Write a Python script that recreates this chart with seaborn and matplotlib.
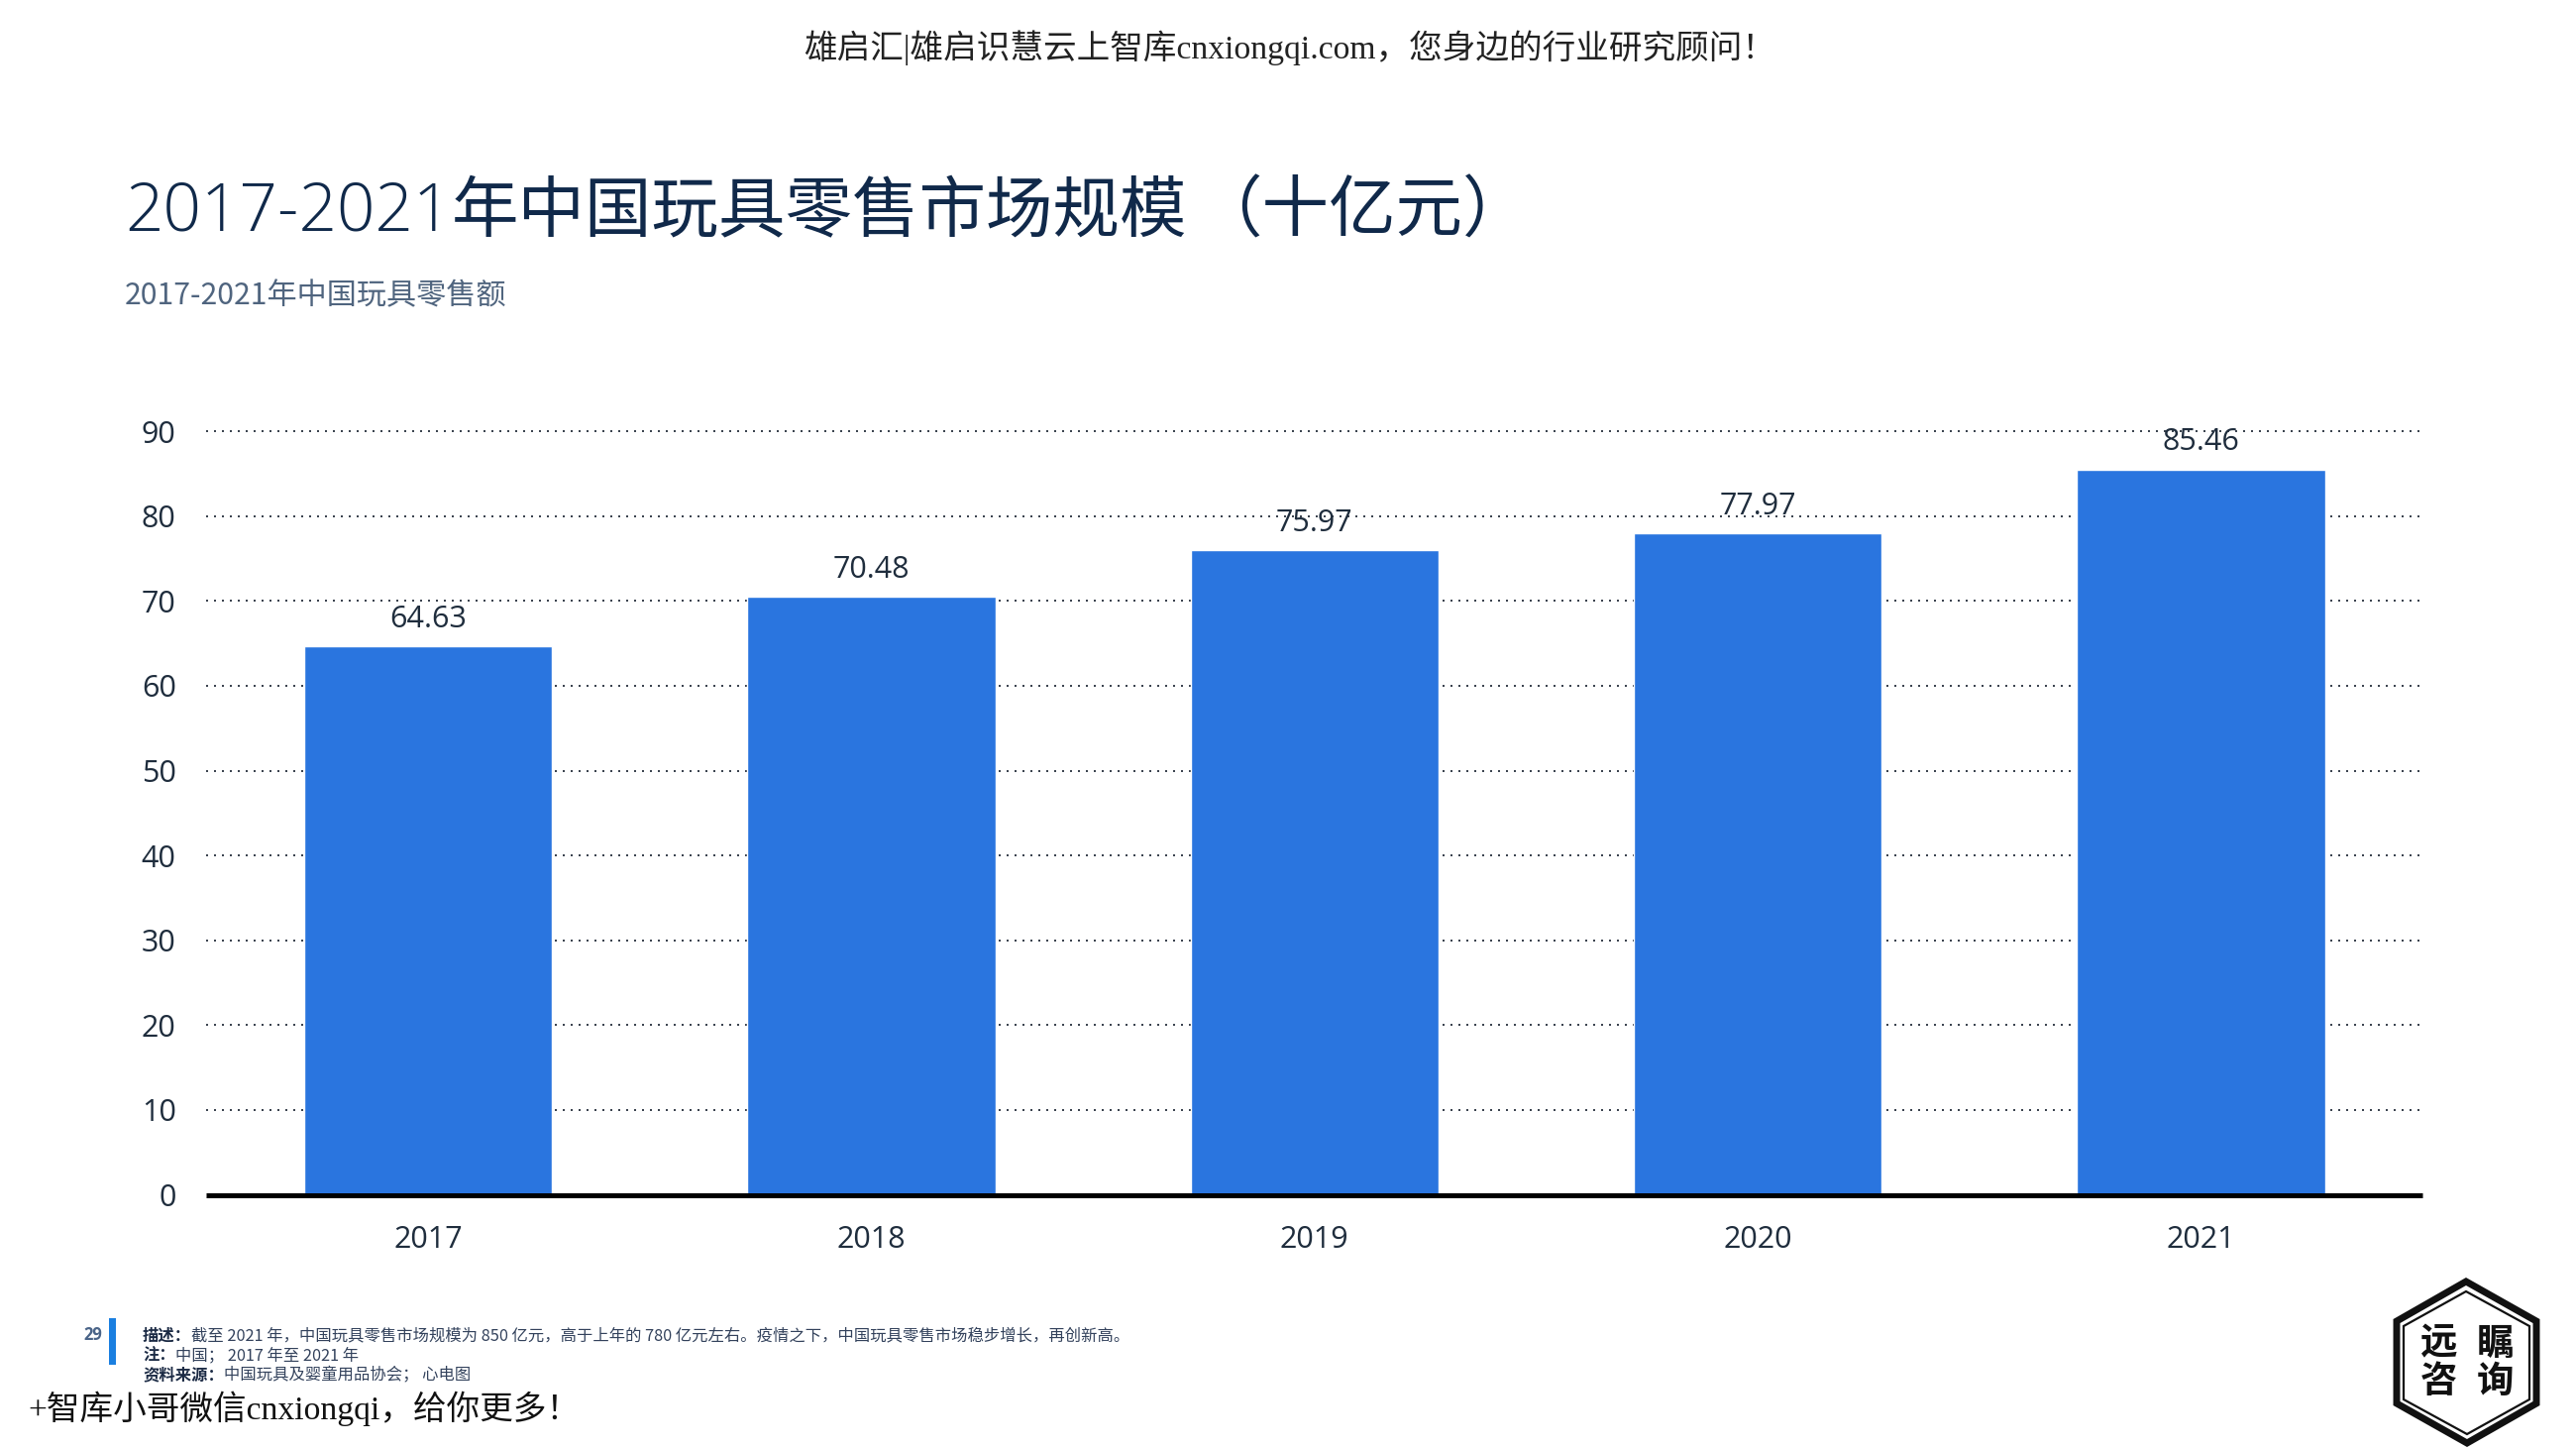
import matplotlib
matplotlib.use('Agg')
import matplotlib.pyplot as plt
from matplotlib.patches import Polygon, Rectangle
import pandas as pd
import seaborn as sns

W, H = 2600, 1462

years = ['2017', '2018', '2019', '2020', '2021']
retail = [64.63, 70.48, 75.97, 77.97, 85.46]
y_ticks = [0, 10, 20, 30, 40, 50, 60, 70, 80, 90]

top_note = '雄启汇|雄启识慧云上智库cnxiongqi.com，您身边的行业研究顾问！'
bottom_note = '+智库小哥微信cnxiongqi，给你更多！'
title_num = '2017-2021'
title_cn = '年中国玩具零售市场规模'
title_unit = '（十亿元）'
subtitle = '2017-2021年中国玩具零售额'
page_no = '29'
notes = [
    ('描述：', '截至 2021 年，中国玩具零售市场规模为 850 亿元，高于上年的 780 亿元左右。疫情之下，中国玩具零售市场稳步增长，再创新高。'),
    ('注：', '中国； 2017 年至 2021 年'),
    ('资料来源：', '中国玩具及婴童用品协会； 心电图'),
]
logo_chars = ['远', '瞩', '咨', '询']

NAVY = '#10294a'
BLUE = '#2a75df'
CJK = 'Noto Sans CJK SC'
LATIN_CJK = ['Open Sans', CJK]
SERIF_CJK = ['Liberation Serif', CJK]

sns.set_theme(style='white')
plt.rcParams['font.family'] = LATIN_CJK

df = pd.DataFrame(dict(year=years, retail=retail))

fig = plt.figure(figsize=(W / 100, H / 100), dpi=100, facecolor='white')


def fx(px):
    return px / W


def fy(px):
    return 1 - px / H


# axes: y=0 at 1205.5px, 10 units = 85.6px, 92 units so the 90 line is not clipped
ax = fig.add_axes([fx(208.3), fy(1205.5), 2237 / W, 92 * 8.56 / H])
sns.barplot(data=df, x='year', y='retail', color=BLUE, saturation=1, width=0.56, ax=ax, zorder=3)
ax.set_xlim(-0.5, 4.5)
ax.set_ylim(0, 92)
ax.set_yticks(y_ticks)
ax.set_xlabel('')
ax.set_ylabel('')
for v in y_ticks[1:]:
    ax.axhline(v, color='#3c4450', lw=1.44, ls=(0, (1, 3)), zorder=1)
sns.despine(ax=ax, left=True, top=True, right=True)
ax.spines['bottom'].set_linewidth(3.6)
ax.spines['bottom'].set_color('black')
ax.spines['bottom'].set_zorder(5)
ax.spines['bottom'].set_capstyle('butt')
ax.tick_params(axis='y', length=0, pad=22, labelsize=22, labelcolor='#1f2d3d')
ax.tick_params(axis='x', length=0, pad=22, labelsize=22, labelcolor='#1f2d3d')
ax.bar_label(ax.containers[0], labels=[f'{v:.2f}' for v in retail], padding=9,
             fontsize=22, color='#1f2d3d', zorder=6)

renderer = fig.canvas.get_renderer()


def run_text(pieces, x, y):
    # lay out text pieces one after the other, x and y in pixels
    for s, kw in pieces:
        t = fig.text(fx(x), fy(y), s, ha='left', va='center', **kw)
        x = t.get_window_extent(renderer).x1


fig.text(fx(1302), fy(48), top_note, ha='center', va='center', fontsize=24.2,
         family=SERIF_CJK, color='#222222')
fig.text(fx(28), fy(1421), bottom_note, ha='left', va='center', fontsize=24.2,
         family=SERIF_CJK, color='#111111')

run_text([
    (title_num, dict(fontsize=48.5, color=NAVY, family='Open Sans', weight='light')),
    (title_cn, dict(fontsize=48.6, color=NAVY, family=CJK)),
], 126, 215)
fig.text(fx(1206), fy(215), title_unit, ha='left', va='center', fontsize=48.6, color=NAVY, family=CJK)
fig.text(fx(126), fy(299), subtitle, ha='left', va='center', fontsize=21.7,
         color='#50657f', family=[CJK])

fig.add_artist(Rectangle((fx(110), fy(1377)), 7 / W, 47 / H, transform=fig.transFigure,
                         color='#1a7fe0', lw=0))
fig.text(fx(94), fy(1347), page_no, ha='center', va='center', fontsize=12, weight='bold',
         color='#4a6488', family='Open Sans')
for (label, body), ly in zip(notes, [1348, 1368, 1387]):
    run_text([
        (label, dict(fontsize=11.75, weight='bold', color='#1b2a44', family=CJK)),
        (body, dict(fontsize=11.75, color='#33425c', family=CJK)),
    ], 144, ly)

# logo hexagon
outer = [(2489, 1293), (2560, 1333), (2560, 1416), (2490, 1456), (2419, 1416), (2419, 1333)]
inner = [(2489, 1303), (2553, 1338), (2553, 1412), (2490, 1447), (2426, 1412), (2426, 1338)]
for pts, lw in [(outer, 5), (inner, 1.6)]:
    fig.add_artist(Polygon([(fx(a), fy(b)) for a, b in pts], closed=True, fill=False,
                           ec='#111111', lw=lw, transform=fig.transFigure))
for ch, (cx, cy) in zip(logo_chars, [(2462, 1355), (2518, 1355), (2462, 1393), (2518, 1393)]):
    fig.text(fx(cx), fy(cy), ch, ha='center', va='center', fontsize=27, weight='bold',
             color='#111111', family=CJK)

fig.savefig('out.png', dpi=100, facecolor='white')
